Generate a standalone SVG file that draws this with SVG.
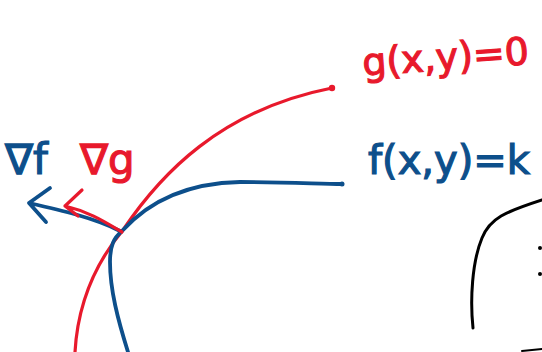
<svg xmlns="http://www.w3.org/2000/svg" width="542" height="352" viewBox="0 0 542 352">
<style>
.s{fill:none;stroke-linecap:round;stroke-linejoin:round}
.r{stroke:#e8192c}
.b{stroke:#0d4f8b}
.k{stroke:#000}
.t{font-family:"DejaVu Sans",sans-serif;stroke-width:1.2}
</style>
<rect width="542" height="352" fill="#fff"/>
<g id="curves">
<path class="s r" stroke-width="3.2" d="M75,352 C78,300 98,260 123,230 C160,175 220,110 332,88"/>
<circle cx="332" cy="88" r="3.2" fill="#e8192c"/>
<path class="s b" stroke-width="3.8" d="M128,352 C118,320 110,290 110,262 C110,245 114,238 122,231 C150,200 190,183 240,182 C290,182 320,184 342,184"/>
<circle cx="342" cy="184" r="2.5" fill="#0d4f8b"/>
<path class="s k" stroke-width="3" d="M473,328 C470,300 472,262 482,238 C490,218 505,212 542,200"/>
<circle cx="540" cy="248" r="2" fill="#000"/>
<circle cx="540" cy="274" r="2" fill="#000"/>
<path class="s k" stroke-width="2" d="M522,351 L542,349"/>
</g>
<g id="arrows">
<path class="s b" stroke-width="3.8" d="M120,231 C95,218 60,210 29,203 M50,188 L29,203 L46,222"/>
<path class="s r" stroke-width="3.2" d="M122,232 C105,222 90,212 65,206 M82,190 L65,206 L78,216"/>
</g>
<g id="labels">
<text class="t" x="5" y="174" font-size="42" fill="#0d4f8b" stroke="#0d4f8b">∇f</text>
<text class="t" x="80" y="174" font-size="42" fill="#e8192c" stroke="#e8192c">∇g</text>
<text class="t" x="362" y="70" font-size="38" fill="#e8192c" stroke="#e8192c" transform="rotate(-4 445 55)">g(x,y)=0</text>
<text class="t" x="368" y="174" font-size="40" fill="#0d4f8b" stroke="#0d4f8b">f(x,y)=k</text>
</g>
</svg>
